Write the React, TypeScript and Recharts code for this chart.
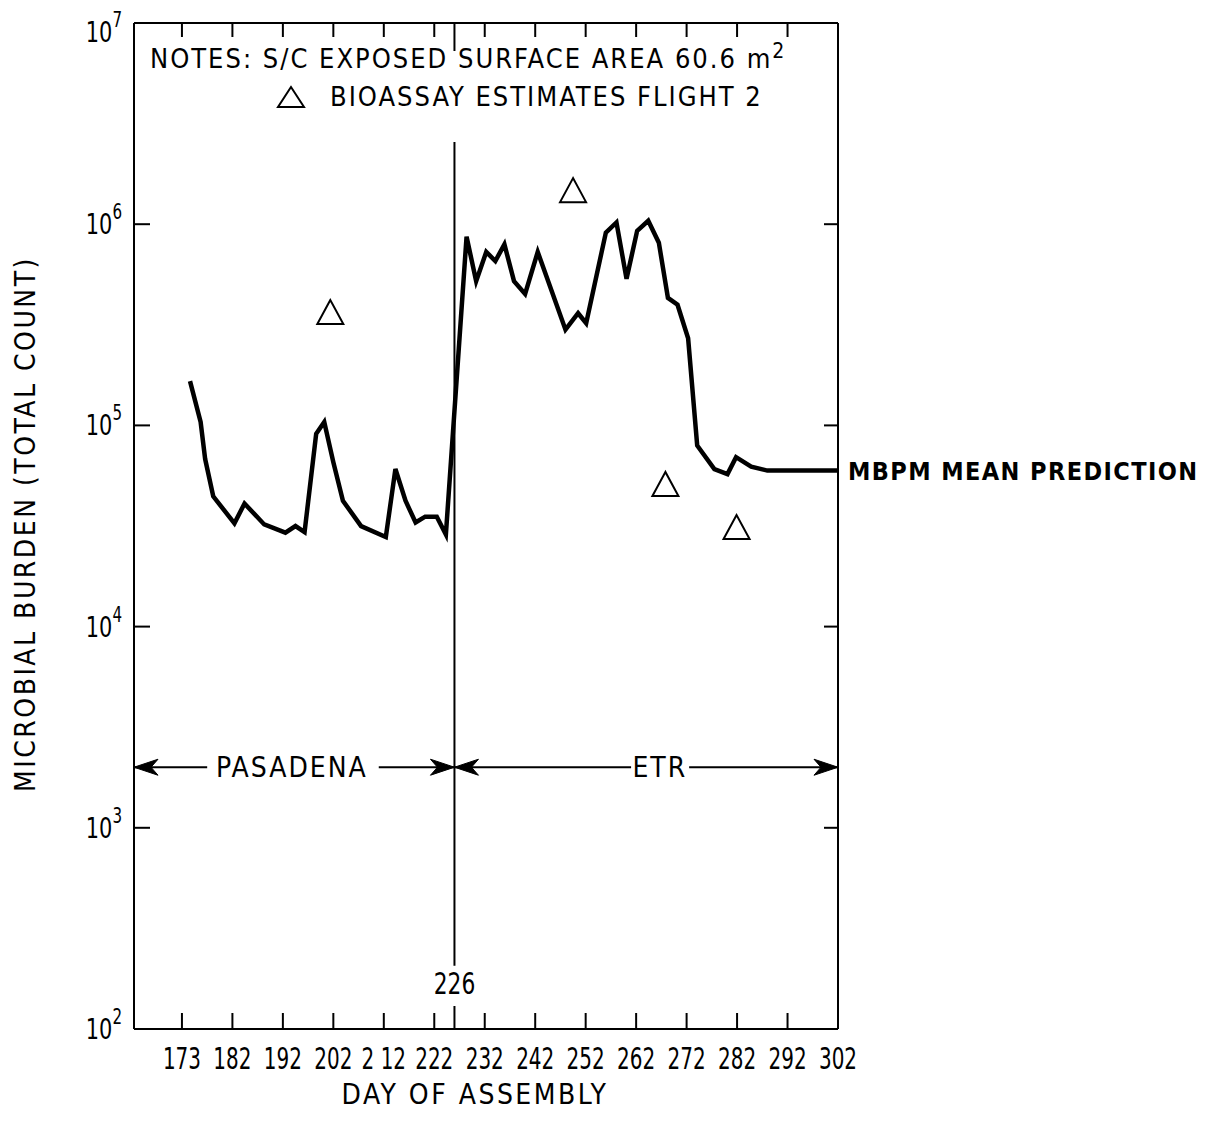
import { ComposedChart, XAxis, YAxis, Line, Scatter, ReferenceLine, ReferenceDot } from 'recharts';

// MBPM mean prediction (day of assembly, total count)
const predDays = [
  173.6, 175.7, 176.6, 178.2, 182.4, 184.4, 188.3, 192.5, 194.5, 196.3,
  198.6, 200.2, 202.0, 203.9, 207.5, 212.4, 214.3, 216.3, 218.3, 220.2,
  222.5, 224.3, 228.4, 230.3, 232.3, 234.1, 235.9, 237.8, 240.0, 242.5,
  248.0, 250.5, 252.1, 256.0, 258.1, 260.1, 262.2, 264.4, 266.5, 268.3,
  270.2, 272.3, 274.1, 277.5, 280.1, 281.8, 284.8, 288.0, 302.0,
];
const predCounts = [
  166000, 104000, 68000, 44400, 32600, 40900, 32200, 29300, 31600, 29500,
  90800, 104000, 65600, 42200, 31600, 27900, 60700, 42200, 32900, 35200,
  35200, 28700, 867000, 521000, 728000, 656000, 794000, 521000, 450000, 728000,
  299000, 361000, 322000, 908000, 1020000, 535000, 927000, 1040000, 809000, 430000,
  398000, 271000, 79400, 60700, 57300, 69500, 62400, 59600, 59600,
];

// bioassay estimates, flight 2
const bioDays = [201.4, 249.5, 267.8, 281.9];
const bioCounts = [362000, 1460000, 50600, 30900];

const xTicks = [172, 182, 192, 202, 212, 222, 226, 232, 242, 252, 262, 272, 282, 292, 302];
const xTickLabels: Record<number, string> = {
  172: '173', 182: '182', 192: '192', 202: '202', 212: '2 12', 222: '222',
  232: '232', 242: '242', 252: '252', 262: '262', 272: '272', 282: '282', 292: '292', 302: '302',
};
const yTicks = [1e2, 1e3, 1e4, 1e5, 1e6, 1e7];

const siteDay = 226;
const arrowCount = 2000;

const predData = predDays.map((d, i) => ({ day: d, count: predCounts[i] }));
const bioData = bioDays.map((d, i) => ({ day: d, count: bioCounts[i] }));

const FONT = '"DejaVu Sans Condensed", "DejaVu Sans", sans-serif';

const BottomTick = (props: any) => {
  const { x, y, payload } = props;
  const v = payload.value;
  if (v === siteDay) {
    return (
      <g>
        <line x1={x} y1={y} x2={x} y2={y - 23} stroke="#000" strokeWidth={2} />
        <text transform={`translate(${x},${y - 35}) scale(0.78,1)`} textAnchor="middle" fontFamily={FONT} fontSize={31} fill="#000">226</text>
      </g>
    );
  }
  return (
    <g>
      {v !== 302 && <line x1={x} y1={y} x2={x} y2={y - 16} stroke="#000" strokeWidth={2} />}
      <text transform={`translate(${x},${y + 40}) scale(0.74,1)`} textAnchor="middle" fontFamily={FONT} fontSize={30} fill="#000">
        {xTickLabels[v]}
      </text>
    </g>
  );
};

const TopTick = (props: any) => {
  const { x, y, payload } = props;
  if (payload.value === 302) return <g />;
  const len = payload.value === siteDay ? 28 : 14;
  return <line x1={x} y1={y} x2={x} y2={y + len} stroke="#000" strokeWidth={2} />;
};

const LeftTick = (props: any) => {
  const { x, y, payload } = props;
  const exp = Math.round(Math.log10(payload.value));
  const dy = exp === 7 ? 19 : 10;
  return (
    <g>
      {exp > 2 && exp < 7 && <line x1={x} y1={y} x2={x + 16} y2={y} stroke="#000" strokeWidth={2} />}
      <text transform={`translate(${x - 12},${y + dy}) scale(0.8,1)`} textAnchor="end" fontFamily={FONT} fontSize={29} fill="#000">
        10<tspan dy={-15} fontSize={21}>{exp}</tspan>
      </text>
    </g>
  );
};

const RightTick = (props: any) => {
  const { x, y, payload } = props;
  const exp = Math.round(Math.log10(payload.value));
  if (exp <= 2 || exp >= 7) return <g />;
  return <line x1={x} y1={y} x2={x - 14} y2={y} stroke="#000" strokeWidth={2} />;
};

const Triangle = (props: any) => {
  const { cx, cy } = props;
  return (
    <polygon
      points={`${cx},${cy - 13} ${cx - 13},${cy + 11} ${cx + 13},${cy + 11}`}
      fill="#fff"
      stroke="#000"
      strokeWidth={2}
    />
  );
};

const ArrowHead = (dir: 'left' | 'right') => (props: any) => {
  const { cx, cy } = props;
  const s = dir === 'left' ? 1 : -1;
  return (
    <polygon
      points={`${cx},${cy} ${cx + s * 24},${cy - 8} ${cx + s * 17},${cy} ${cx + s * 24},${cy + 8}`}
      fill="#000"
      stroke="#000"
      strokeWidth={1}
    />
  );
};

const RegionLabel = (text: string) => (props: any) => {
  const { cx, cy } = props;
  return (
    <text x={cx} y={cy + 10} textAnchor="middle" fontFamily={FONT} fontSize={28} letterSpacing={2} fill="#000">
      {text}
    </text>
  );
};

const axisLine = { stroke: '#000', strokeWidth: 2 };

export default function App() {
  return (
    <div style={{ position: 'relative', width: 1200, height: 1126, background: '#fff' }}>
      <ComposedChart
        width={1200}
        height={1126}
        margin={{ top: 14, right: 369, bottom: 104, left: 125 }}
      >
        <XAxis
          dataKey="day"
          type="number"
          domain={[162.5, 302]}
          ticks={xTicks}
          interval={0}
          height={1}
          tickSize={0}
          tickMargin={0}
          tickLine={false}
          axisLine={axisLine}
          tick={<BottomTick />}
          allowDataOverflow
        />
        <XAxis
          xAxisId="top"
          orientation="top"
          dataKey="day"
          type="number"
          domain={[162.5, 302]}
          ticks={xTicks}
          interval={0}
          height={1}
          tickSize={0}
          tickMargin={0}
          tickLine={false}
          axisLine={axisLine}
          tick={<TopTick />}
          allowDataOverflow
        />
        <YAxis
          dataKey="count"
          scale="log"
          domain={[1e2, 1e7]}
          ticks={yTicks}
          interval={0}
          width={1}
          tickSize={0}
          tickMargin={0}
          tickLine={false}
          axisLine={axisLine}
          tick={<LeftTick />}
          allowDataOverflow
        />
        <YAxis
          yAxisId="right"
          orientation="right"
          scale="log"
          domain={[1e2, 1e7]}
          ticks={yTicks}
          interval={0}
          width={1}
          tickSize={0}
          tickMargin={0}
          tickLine={false}
          axisLine={axisLine}
          tick={<RightTick />}
          allowDataOverflow
        />

        {/* assembly moved from Pasadena to ETR on day 226 */}
        <ReferenceLine
          segment={[{ x: siteDay, y: 2.56e6 }, { x: siteDay, y: 206 }]}
          stroke="#000"
          strokeWidth={2}
          ifOverflow="visible"
        />

        <ReferenceLine segment={[{ x: 162.5, y: arrowCount }, { x: 177, y: arrowCount }]} stroke="#000" strokeWidth={2} />
        <ReferenceLine segment={[{ x: 211, y: arrowCount }, { x: siteDay, y: arrowCount }]} stroke="#000" strokeWidth={2} />
        <ReferenceLine segment={[{ x: siteDay, y: arrowCount }, { x: 261, y: arrowCount }]} stroke="#000" strokeWidth={2} />
        <ReferenceLine segment={[{ x: 272.5, y: arrowCount }, { x: 302, y: arrowCount }]} stroke="#000" strokeWidth={2} />
        <ReferenceDot x={162.5} y={arrowCount} shape={ArrowHead('left')} ifOverflow="visible" />
        <ReferenceDot x={siteDay} y={arrowCount} shape={ArrowHead('right')} ifOverflow="visible" />
        <ReferenceDot x={siteDay} y={arrowCount} shape={ArrowHead('left')} ifOverflow="visible" />
        <ReferenceDot x={302} y={arrowCount} shape={ArrowHead('right')} ifOverflow="visible" />
        <ReferenceDot x={193.8} y={arrowCount} shape={RegionLabel('PASADENA')} />
        <ReferenceDot x={266.7} y={arrowCount} shape={RegionLabel('ETR')} />

        <Line
          data={predData}
          dataKey="count"
          type="linear"
          stroke="#000"
          strokeWidth={4.5}
          strokeLinejoin="miter"
          dot={false}
          isAnimationActive={false}
        />
        <Scatter data={bioData} dataKey="count" shape={<Triangle />} isAnimationActive={false} />
      </ComposedChart>

      {/* notes */}
      <div
        style={{
          position: 'absolute', left: 142, top: 31, fontFamily: FONT, fontSize: 27, letterSpacing: 2,
          whiteSpace: 'nowrap', color: '#000',
        }}
      >
        NOTES: S/C EXPOSED SURFACE AREA 60.6 m<sup style={{ fontSize: 21 }}>2</sup>
      </div>
      <div
        style={{
          position: 'absolute', left: 268, top: 73, fontFamily: FONT, fontSize: 27, letterSpacing: 2,
          whiteSpace: 'nowrap', color: '#000', display: 'flex', alignItems: 'center',
        }}
      >
        <svg width={30} height={26} style={{ marginRight: 24 }}>
          <polygon points="15,3 2,23 28,23" fill="#fff" stroke="#000" strokeWidth={2} />
        </svg>
        BIOASSAY ESTIMATES FLIGHT 2
      </div>

      <div
        style={{
          position: 'absolute', left: 840, top: 449, fontFamily: FONT, fontSize: 25, letterSpacing: 1.4,
          fontWeight: 'bold', whiteSpace: 'nowrap', color: '#000',
        }}
      >
        MBPM MEAN PREDICTION
      </div>

      <div
        style={{
          position: 'absolute', left: 17, top: 516, width: 700, textAlign: 'center',
          transform: 'translate(-50%, -50%) rotate(-90deg)', fontFamily: FONT, fontSize: 28,
          letterSpacing: 2.5, whiteSpace: 'nowrap', color: '#000',
        }}
      >
        MICROBIAL BURDEN (TOTAL COUNT)
      </div>

      <div
        style={{
          position: 'absolute', left: 467, top: 1086, transform: 'translate(-50%, -50%)',
          fontFamily: FONT, fontSize: 28, letterSpacing: 2.5, whiteSpace: 'nowrap', color: '#000',
        }}
      >
        DAY OF ASSEMBLY
      </div>
    </div>
  );
}
